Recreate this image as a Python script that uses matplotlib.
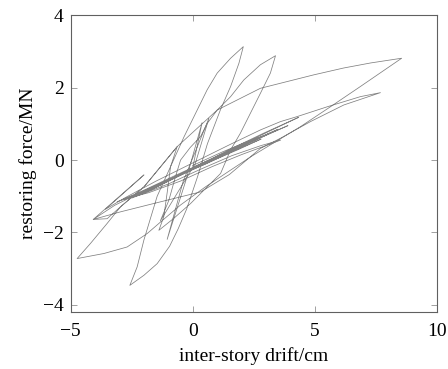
import matplotlib
matplotlib.use("Agg")
import matplotlib.pyplot as plt

# Hysteresis path (inter-story drift in cm, restoring force in MN) in time order
drift = [
    # small cycles (dense band)
    0.0, 1.2, 2.2, 3.11, 2.0, 0.8, -0.5, -1.8, -3.1,
    -2.2, -1.0, 0.3, 1.6, 2.9, 4.34, 3.4, 2.3, 1.0, -0.4, -1.7, -2.8,
    -1.8, -0.5, 0.8, 2.0, 3.0, 3.6, 2.8, 1.6, 0.3, -1.0, -2.5,
    -1.5, 0.0, 1.5, 2.6, 3.5, 2.5, 1.2, 0.0,
    # stiff spikes
    0.38, -0.3, -1.05, -0.4, 0.66, 0.1, -1.33,
    # loop B
    -0.98, -0.71, -0.5, -0.1, 0.32, 0.59, 1.0, 1.55, 2.09, 2.77, 3.39,
    3.18, 2.77, 2.36, 1.95, 1.55, 1.14, 0.59, -0.09, -0.78, -1.39,
    -1.19, -1.05,
    # loop A
    -0.91, -0.36, 0.18, 0.59, 1.0, 1.55, 2.07,
    1.89, 1.55, 1.14, 0.6, 0.2, -0.25, -0.6, -0.95, -1.46, -2.0, -2.58,
    -2.28, -2.0, -1.73, -1.46, -0.91, -0.64,
    # largest loop
    -2.0, -2.96, -3.51, -4.19, -4.74,
    -3.64, -2.69, -1.87, -1.32, -0.5, 0.5, 1.5, 2.4, 3.31, 4.41, 5.64, 6.87, 8.56,
    7.98, 7.29, 6.18, 4.95, 3.59, 2.77, 1.0, -0.64, -2.0, -2.96, -3.51, -4.08,
    # second large loop
    -2.96, -1.6, 0.32, 1.5, 2.77, 3.59, 4.82, 6.19, 7.69,
    6.87, 5.51, 4.28, 3.59, 2.77, 1.5, 0.0, -1.5, -2.8, -3.58,
    -2.0, -4.08,
    # decaying cycles
    -3.2, -2.0, -0.8, 0.5, 1.7, 2.8, 3.9,
    2.9, 1.8, 0.6, -0.7, -1.9, -2.9,
    -1.9, -0.6, 0.7, 1.9, 2.8, 1.7, 0.5, -0.5,
]
force = [
    -0.15, 0.22, 0.50, 0.72, 0.38, 0.02, -0.42, -0.85, -1.15,
    -0.92, -0.55, -0.12, 0.32, 0.74, 1.18, 0.88, 0.52, 0.10, -0.38, -0.82, -1.08,
    -0.90, -0.58, -0.18, 0.15, 0.40, 0.55, 0.40, 0.12, -0.26, -0.66, -1.05,
    -0.72, -0.25, 0.22, 0.58, 0.85, 0.55, 0.15, -0.20,
    1.03, -0.60, -2.19, -0.60, 1.15, -0.10, -1.68,
    -1.11, -0.46, 0.00, 0.35, 0.65, 1.01, 1.38, 1.75, 2.21, 2.63, 2.88,
    2.40, 1.84, 1.29, 0.74, 0.28, -0.37, -0.74, -1.20, -1.61, -1.94,
    -1.57, -0.90,
    -0.18, 0.64, 1.38, 1.94, 2.40, 2.81, 3.13,
    2.67, 2.03, 1.40, 0.45, -0.45, -1.35, -1.90, -2.38, -2.86, -3.18, -3.46,
    -2.95, -2.20, -1.60, -1.00, -0.18, 0.37,
    -0.74, -1.29, -1.75, -2.30, -2.72,
    -2.58, -2.40, -2.03, -1.71, -1.24, -0.75, -0.30, 0.10, 0.47, 0.92, 1.47, 2.03, 2.81,
    2.75, 2.68, 2.54, 2.35, 2.12, 1.98, 1.38, 0.37, -0.74, -1.29, -1.62, -1.64,
    -1.43, -1.20, -0.88, -0.40, 0.32, 0.60, 1.06, 1.52, 1.86,
    1.75, 1.47, 1.20, 1.06, 0.83, 0.42, -0.08, -0.58, -1.05, -1.36,
    -0.41, -1.64,
    -1.25, -0.85, -0.48, -0.08, 0.28, 0.62, 0.95,
    0.66, 0.34, -0.02, -0.42, -0.80, -1.10,
    -0.85, -0.45, -0.05, 0.30, 0.58, 0.26, -0.12, -0.40,
]

x_ticks = [-5, 0, 5, 10]
y_ticks = [-4, -2, 0, 2, 4]

plt.rcParams['font.family'] = ['Liberation Serif', 'DejaVu Serif']

fig = plt.figure(figsize=(4.48, 3.69), dpi=100)
ax = fig.add_axes([0.158, 0.154, 0.817, 0.805])
ax.plot(drift, force, color='#808080', linewidth=0.55)

ax.set_xlim(-5, 10)
ax.set_ylim(-4.2, 4)
ax.set_xticks(x_ticks)
ax.set_yticks(y_ticks)
ax.set_xticklabels([str(t).replace('-', '\u2212') for t in x_ticks])
ax.set_yticklabels([str(t).replace('-', '\u2212') for t in y_ticks])
ax.tick_params(direction='in', top=True, right=True, length=4, width=0.6,
               color='#909090', labelsize=14)
ax.tick_params(axis='x', pad=8)
ax.tick_params(axis='y', pad=5)
for s in ax.spines.values():
    s.set_color('#606060')
    s.set_linewidth(0.8)
ax.set_xlabel('inter-story drift/cm', fontsize=14, labelpad=5)
ax.set_ylabel('restoring force/MN', fontsize=14, labelpad=4)

fig.savefig('out.png', dpi=100)
